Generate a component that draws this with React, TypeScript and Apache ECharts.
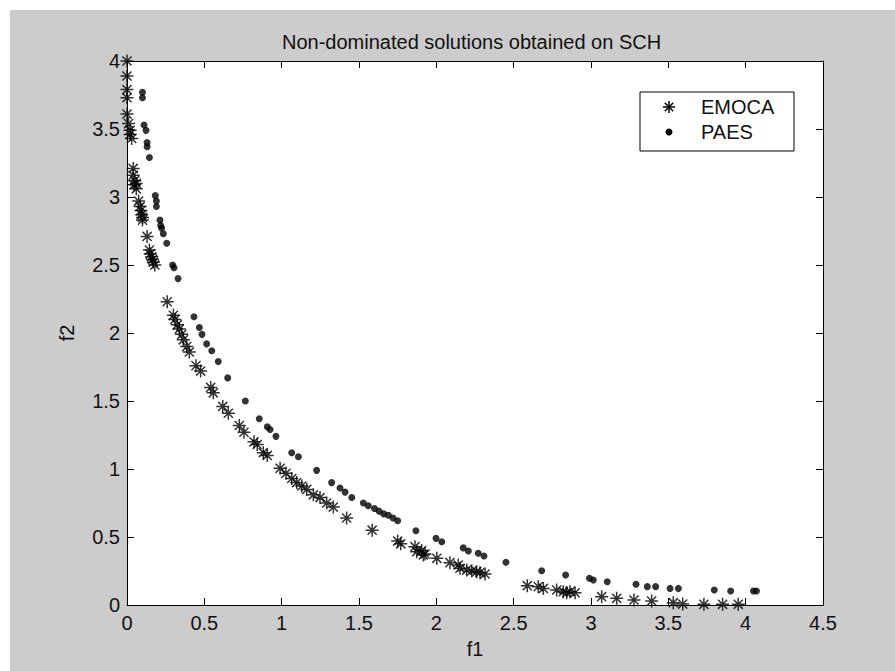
import React, { useEffect, useRef } from "react";
import * as echarts from "echarts";

const FONT = "'Liberation Sans', Arial, Helvetica, sans-serif";

const xTicks = { min: 0, max: 4.5, interval: 0.5 };
const yTicks = { min: 0, max: 4, interval: 0.5 };

const emocaF1 = [
  0.0, 0.0, 0.0, 0.0, 0.0, 0.01, 0.02, 0.02, 0.03,
  0.04, 0.04, 0.05, 0.045, 0.06, 0.06,
  0.075, 0.085, 0.09, 0.095, 0.1, 0.1,
  0.13, 0.145, 0.15, 0.16, 0.165, 0.17, 0.18,
  0.26,
  0.3, 0.31, 0.325, 0.338, 0.354, 0.364, 0.386, 0.403,
  0.446, 0.476, 0.541, 0.558, 0.619, 0.655, 0.726, 0.756, 0.821, 0.842, 0.881, 0.907,
  0.99, 1.028, 1.065, 1.097, 1.13, 1.162, 1.205, 1.248, 1.291, 1.334,
  1.42, 1.585, 1.75, 1.77,
  1.862, 1.873, 1.905, 1.927, 1.916, 2.003, 2.088, 2.142, 2.153, 2.196, 2.229, 2.261, 2.282, 2.315,
  2.588, 2.659, 2.692, 2.778, 2.821, 2.843, 2.864, 2.897,
  3.069, 3.166, 3.278, 3.392, 3.532, 3.593, 3.73, 3.851, 3.952,
];
const emocaF2 = [
  4.0, 3.89, 3.79, 3.73, 3.61, 3.54, 3.49, 3.46, 3.43,
  3.21, 3.16, 3.12, 3.09, 3.06, 3.1,
  2.97, 2.93, 2.9, 2.87, 2.85, 2.83,
  2.71, 2.61, 2.58, 2.56, 2.54, 2.52, 2.5,
  2.23,
  2.13, 2.1, 2.06, 2.03, 1.99, 1.95, 1.9, 1.86,
  1.76, 1.72, 1.6, 1.56, 1.46, 1.41, 1.32, 1.27, 1.2, 1.18, 1.12, 1.1,
  1.005, 0.968, 0.93, 0.9, 0.875, 0.85, 0.81, 0.79, 0.75, 0.72,
  0.64, 0.55, 0.47, 0.45,
  0.429, 0.392, 0.4, 0.375, 0.368, 0.343, 0.311, 0.294, 0.27, 0.257, 0.25, 0.245, 0.238, 0.228,
  0.142, 0.135, 0.122, 0.11, 0.098, 0.09, 0.098, 0.09,
  0.061, 0.049, 0.037, 0.029, 0.017, 0.007, 0.005, 0.005, 0.005,
];

const paesF1 = [
  0.1, 0.1, 0.11, 0.123, 0.13, 0.13, 0.145,
  0.183, 0.19, 0.19, 0.213, 0.218, 0.224, 0.235, 0.257, 0.295, 0.304, 0.33,
  0.433, 0.468, 0.485, 0.515, 0.548, 0.59, 0.651, 0.765, 0.855, 0.907, 0.925, 0.963, 1.065, 1.108, 1.226,
  1.323, 1.377, 1.41, 1.453, 1.528, 1.56,
  1.6, 1.63, 1.66, 1.69, 1.72, 1.75,
  1.868, 1.998, 2.035, 2.174, 2.207, 2.271, 2.308, 2.45, 2.681, 2.836, 2.99, 3.015, 3.105, 3.291,
  3.364, 3.418, 3.511, 3.565, 3.797, 3.903, 4.05, 4.07,
];
const paesF2 = [
  3.77, 3.73, 3.53, 3.49, 3.4, 3.37, 3.29,
  3.01, 2.97, 2.93, 2.83, 2.79, 2.77, 2.73, 2.66, 2.5, 2.48, 2.4,
  2.12, 2.04, 1.99, 1.92, 1.87, 1.79, 1.67, 1.5, 1.37, 1.31, 1.29, 1.24, 1.12, 1.09, 0.99,
  0.9, 0.86, 0.83, 0.79, 0.75, 0.73,
  0.71, 0.69, 0.67, 0.66, 0.64, 0.62,
  0.546, 0.49, 0.465, 0.42, 0.397, 0.38, 0.36, 0.314, 0.252, 0.22, 0.196, 0.184, 0.171, 0.152,
  0.135, 0.135, 0.122, 0.122, 0.11, 0.103, 0.103, 0.103,
];

const seriesNames = ["EMOCA", "PAES"];
const titleText = "Non-dominated solutions obtained on SCH";

const ASTERISK =
  "path://M0,-1 L0,1 M-1,0 L1,0 M-0.7,-0.7 L0.7,0.7 M-0.7,0.7 L0.7,-0.7";

export default function App() {
  const ref = useRef<HTMLDivElement>(null);

  useEffect(() => {
    if (!ref.current) return;
    const chart = echarts.init(ref.current, undefined, { renderer: "svg" });

    const emoca = emocaF1.map((v, i) => [v, emocaF2[i]]);
    const paes = paesF1.map((v, i) => [v, paesF2[i]]);

    const axisLine = { onZero: false, lineStyle: { color: "#000", width: 1 } };
    const axisTick = { inside: true, length: 7, lineStyle: { color: "#000", width: 1 } };
    const labelStyle = { fontFamily: FONT, fontSize: 20, color: "#111" };

    // legend box drawn in chart coordinates (chart div is offset 10px)
    const lx = 630, ly = 82, lw = 154, lh = 59;
    const sx = 659, sy1 = 97, sy2 = 122;
    const ls = { stroke: "#000", lineWidth: 1.5 };

    const option: any = {
      animation: false,
      backgroundColor: "#cccccc",
      title: {
        text: titleText,
        left: 267,
        top: 17,
        textStyle: { fontFamily: FONT, fontSize: 20, fontWeight: "normal", color: "#111" },
      },
      grid: {
        left: 117,
        top: 51,
        width: 696,
        height: 544,
        show: true,
        backgroundColor: "#ffffff",
        borderWidth: 0,
      },
      xAxis: [
        {
          type: "value",
          ...xTicks,
          position: "bottom",
          name: "f1",
          nameLocation: "middle",
          nameGap: 34,
          nameTextStyle: labelStyle,
          axisLine,
          axisTick,
          axisLabel: { ...labelStyle, margin: 8 },
          splitLine: { show: false },
        },
        {
          type: "value",
          ...xTicks,
          position: "top",
          axisLine,
          axisTick,
          axisLabel: { show: false },
          splitLine: { show: false },
        },
      ],
      yAxis: [
        {
          type: "value",
          ...yTicks,
          position: "left",
          name: "f2",
          nameLocation: "middle",
          nameGap: 50,
          nameTextStyle: labelStyle,
          axisLine,
          axisTick,
          axisLabel: { ...labelStyle, margin: 7 },
          splitLine: { show: false },
        },
        {
          type: "value",
          ...yTicks,
          position: "right",
          axisLine,
          axisTick,
          axisLabel: { show: false },
          splitLine: { show: false },
        },
      ],
      series: [
        {
          type: "scatter",
          name: seriesNames[0],
          data: emoca,
          symbol: ASTERISK,
          symbolSize: 13,
          itemStyle: { color: "#000", borderColor: "#000", borderWidth: 1.5 },
          z: 3,
        },
        {
          type: "scatter",
          name: seriesNames[1],
          data: paes,
          symbol: "circle",
          symbolSize: 7,
          itemStyle: { color: "#000" },
          z: 3,
        },
      ],
      graphic: [
        {
          type: "group",
          z: 100,
          children: [
            {
              type: "rect",
              shape: { x: lx, y: ly, width: lw, height: lh },
              style: { fill: "#fff", stroke: "#000", lineWidth: 1 },
            },
            { type: "line", shape: { x1: sx, y1: sy1 - 6, x2: sx, y2: sy1 + 6 }, style: ls },
            { type: "line", shape: { x1: sx - 6, y1: sy1, x2: sx + 6, y2: sy1 }, style: ls },
            { type: "line", shape: { x1: sx - 4.2, y1: sy1 - 4.2, x2: sx + 4.2, y2: sy1 + 4.2 }, style: ls },
            { type: "line", shape: { x1: sx - 4.2, y1: sy1 + 4.2, x2: sx + 4.2, y2: sy1 - 4.2 }, style: ls },
            { type: "circle", shape: { cx: sx, cy: sy2, r: 3.5 }, style: { fill: "#000" } },
            {
              type: "text",
              x: 691,
              y: sy1,
              style: { text: seriesNames[0], font: `20px ${FONT}`, fill: "#111", verticalAlign: "middle" },
            },
            {
              type: "text",
              x: 691,
              y: sy2,
              style: { text: seriesNames[1], font: `20px ${FONT}`, fill: "#111", verticalAlign: "middle" },
            },
          ],
        },
      ],
    };

    chart.setOption(option);
    return () => chart.dispose();
  }, []);

  return (
    <div
      ref={ref}
      style={{ position: "absolute", left: 10, top: 10, width: 885, height: 661 }}
    />
  );
}
